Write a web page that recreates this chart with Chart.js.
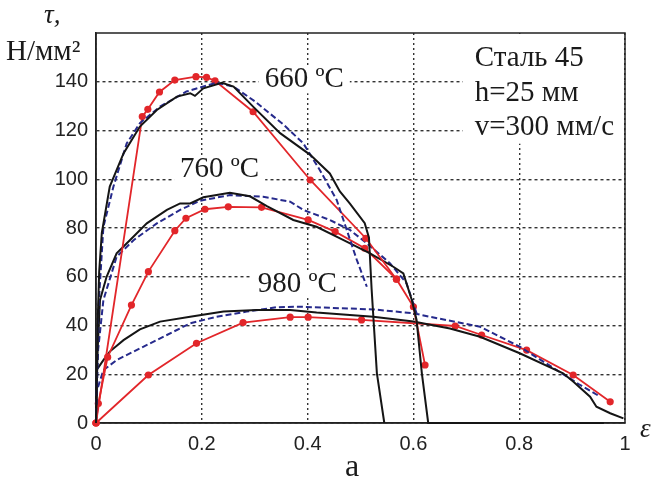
<!DOCTYPE html>
<html lang="ru">
  <head>
    <meta charset="UTF-8" />
    <title>Сталь 45</title>
    <script src="https://cdn.jsdelivr.net/npm/chart.js@4.4.0/dist/chart.umd.min.js"></script>
    <style>
      html,
      body {
        margin: 0;
        padding: 0;
        background: #fff;
      }
      #wrap {
        width: 664px;
        height: 490px;
      }
    </style>
  </head>
  <body>
    <div id="wrap"><canvas id="tau-chart" width="664" height="490"></canvas></div>
    <script>
      // 660 ºC
      const exp660X = [0, 0.003, 0.006, 0.011, 0.026, 0.052, 0.083, 0.115, 0.153, 0.178, 0.187, 0.203, 0.238, 0.26, 0.297, 0.348, 0.405, 0.442, 0.461, 0.48, 0.508, 0.516, 0.521, 0.531, 0.545];
      const exp660Y = [0, 40, 62, 78, 97, 110.6, 121.6, 128.4, 133.9, 135.3, 134.2, 137.3, 139.6, 138, 129.8, 118.9, 110, 102.4, 95, 90, 82, 76, 55, 20.4, 0];
      const mod660X = [0, 0.004, 0.014, 0.033, 0.058, 0.083, 0.121, 0.171, 0.228, 0.26, 0.3, 0.354, 0.392, 0.423, 0.455, 0.474, 0.493, 0.512];
      const mod660Y = [0, 45, 80.5, 97, 114.7, 123, 129.8, 136, 139.6, 138, 132, 122.5, 114.7, 103.8, 91.5, 79.2, 66.9, 55.9];
      const calc660X = [0, 0.0875, 0.098, 0.12, 0.149, 0.189, 0.209, 0.225, 0.297, 0.405, 0.51, 0.568];
      const calc660Y = [0, 125.7, 128.7, 135.8, 140.7, 142.1, 141.8, 140.4, 127.7, 99.7, 75.8, 59];

      // 760 ºC
      const exp760X = [0, 0.003, 0.0076, 0.02, 0.039, 0.064, 0.096, 0.134, 0.159, 0.178, 0.203, 0.253, 0.291, 0.323, 0.373, 0.417, 0.468, 0.518, 0.562, 0.581, 0.597, 0.606, 0.616, 0.628, 0.96];
      const exp760Y = [0, 30, 50.5, 60, 69.6, 75, 81.9, 87.4, 90.1, 90.1, 92.6, 94.5, 93, 89, 83.3, 80.5, 75, 69.6, 64.1, 61.4, 50.5, 42.3, 20.4, 0, 0];
      const mod760X = [0, 0.004, 0.014, 0.039, 0.071, 0.115, 0.159, 0.197, 0.253, 0.316, 0.367, 0.392, 0.442, 0.48, 0.512, 0.556, 0.587, 0.606];
      const mod760Y = [0, 30, 50.5, 68.2, 75, 81.9, 87.4, 91.2, 93.5, 92.8, 90.8, 87.4, 83.3, 79.2, 73.7, 65.5, 57.3, 45];
      const calc760X = [0, 0.0044, 0.022, 0.067, 0.099, 0.149, 0.17, 0.206, 0.25, 0.313, 0.401, 0.452, 0.508, 0.568, 0.6, 0.622];
      const calc760Y = [0, 8, 27, 48.4, 62.1, 78.9, 84, 87.7, 88.7, 88.5, 83.3, 78.5, 71.7, 59, 47.7, 23.8];

      // 980 ºC
      const exp980X = [0, 0.002, 0.014, 0.026, 0.052, 0.083, 0.121, 0.178, 0.241, 0.304, 0.367, 0.417, 0.524, 0.6, 0.669, 0.726, 0.801, 0.883, 0.902, 0.934, 0.946, 0.972, 0.997];
      const exp980Y = [0, 22, 25.8, 29.3, 34, 38.4, 41.6, 43.6, 45.7, 46.4, 46.4, 45.3, 43.6, 41.6, 38.8, 35.4, 28.6, 20.4, 17, 10.8, 6.7, 4, 1.9];
      const mod980X = [0, 0.002, 0.014, 0.039, 0.083, 0.134, 0.178, 0.228, 0.285, 0.342, 0.386, 0.524, 0.6, 0.631, 0.726, 0.801, 0.871, 0.915, 0.953];
      const mod980Y = [0, 13.5, 21.7, 25.8, 30.6, 36.1, 40.9, 43.6, 45.7, 47.5, 47.7, 46.6, 45, 43.6, 39.5, 31.3, 21.7, 15.6, 10.8];
      const calc980X = [0, 0.099, 0.19, 0.278, 0.367, 0.401, 0.502, 0.679, 0.729, 0.814, 0.902, 0.972];
      const calc980Y = [0, 19.7, 32.7, 41.2, 43.4, 43.4, 42.3, 39.8, 36.1, 29.9, 19.7, 8.7];

      const xTicks = [0, 0.2, 0.4, 0.6, 0.8, 1];
      const yTicks = [0, 20, 40, 60, 80, 100, 120, 140];

      // labels inside the plot: [text, x, y] in data units (left edge, middle)
      const curveLabels = [
        ['660 ºC', 0.319, 141],
        ['760 ºC', 0.159, 104],
        ['980 ºC', 0.306, 57],
      ];
      const infoLines = ['Сталь 45', 'h=25 мм', 'v=300 мм/с'];

      const BLACK = '#151515';
      const BLUE = '#262a8c';
      const RED = '#e2262a';
      const SERIF = '"Liberation Serif", "Times New Roman", serif';

      function pts(xs, ys) {
        return xs.map((x, i) => ({ x: x, y: ys[i] }));
      }

      function expSet(xs, ys) {
        return { data: pts(xs, ys), borderColor: BLACK, borderWidth: 2, pointRadius: 0, clip: false };
      }
      function modSet(xs, ys) {
        return { data: pts(xs, ys), borderColor: BLUE, borderWidth: 2, borderDash: [6, 3], pointRadius: 0, clip: false };
      }
      function calcSet(xs, ys) {
        return {
          data: pts(xs, ys),
          borderColor: RED,
          borderWidth: 1.8,
          pointRadius: 3.6,
          pointBackgroundColor: RED,
          pointBorderWidth: 0,
          clip: false,
        };
      }

      const textPlugin = {
        id: 'texts',
        beforeDatasetsDraw(chart) {
          const { ctx, chartArea: a, scales } = chart;
          const sx = scales.x;
          const sy = scales.y;
          ctx.save();
          ctx.font = '29px ' + SERIF;
          ctx.textBaseline = 'middle';
          ctx.textAlign = 'left';
          curveLabels.forEach(([t, x, y]) => {
            const px = sx.getPixelForValue(x);
            const py = sy.getPixelForValue(y);
            const w = ctx.measureText(t).width;
            ctx.fillStyle = '#fff';
            ctx.fillRect(px - 6, py - 14, w + 12, 28);
            ctx.fillStyle = '#1a1a1a';
            ctx.fillText(t, px, py);
          });
          // info block in the top right corner
          const bx = sx.getPixelForValue(0.716);
          ctx.fillStyle = '#fff';
          ctx.fillRect(bx - 12, a.top + 1, a.right - bx + 10, sy.getPixelForValue(115) - a.top);
          ctx.fillStyle = '#1a1a1a';
          infoLines.forEach((t, i) => {
            ctx.fillText(t, bx, sy.getPixelForValue(149.5 - i * 14.2));
          });
          // frame
          ctx.strokeStyle = '#222';
          ctx.lineWidth = 1.5;
          ctx.strokeRect(a.left, a.top, a.right - a.left, a.bottom - a.top);
          // axis names
          ctx.font = 'italic 27px ' + SERIF;
          ctx.fillText('τ,', 44, 16);
          ctx.fillText('ε', 640, 430);
          ctx.font = '29px ' + SERIF;
          ctx.fillText('H/мм²', 6, 52);
          ctx.textAlign = 'center';
          ctx.font = '32px ' + SERIF;
          ctx.fillText('a', 352, 468);
          ctx.restore();
        },
      };

      new Chart(document.getElementById('tau-chart'), {
        type: 'line',
        data: {
          datasets: [
            expSet(exp660X, exp660Y),
            modSet(mod660X, mod660Y),
            calcSet(calc660X, calc660Y),
            expSet(exp760X, exp760Y),
            modSet(mod760X, mod760Y),
            calcSet(calc760X, calc760Y),
            expSet(exp980X, exp980Y),
            modSet(mod980X, mod980Y),
            calcSet(calc980X, calc980Y),
          ],
        },
        options: {
          responsive: false,
          animation: false,
          events: [],
          layout: { padding: { left: 0, top: 33, right: 39, bottom: 0 } },
          plugins: { legend: { display: false }, tooltip: { enabled: false } },
          elements: { line: { tension: 0 } },
          scales: {
            x: {
              type: 'linear',
              min: 0,
              max: 1,
              afterBuildTicks: (s) => {
                s.ticks = xTicks.map((v) => ({ value: v }));
              },
              afterFit: (s) => {
                s.height = 67;
              },
              ticks: {
                color: '#222',
                padding: 9,
                font: { family: '"Liberation Sans", Arial, sans-serif', size: 20 },
                callback: (v) => (v === 0 || v === 1 ? String(v) : v.toFixed(1)),
              },
              grid: { color: '#333', lineWidth: 1.4, drawTicks: false },
              border: { color: '#222', width: 1.5, dash: [2, 3] },
            },
            y: {
              min: 0,
              max: 160,
              afterBuildTicks: (s) => {
                s.ticks = yTicks.map((v) => ({ value: v }));
              },
              afterFit: (s) => {
                s.width = 96;
              },
              ticks: {
                color: '#222',
                padding: 8,
                font: { family: '"Liberation Sans", Arial, sans-serif', size: 20 },
              },
              grid: { color: '#333', lineWidth: 1.4, drawTicks: false },
              border: { color: '#222', width: 1.5, dash: [3, 3] },
            },
          },
        },
        plugins: [textPlugin],
      });
    </script>
  </body>
</html>
